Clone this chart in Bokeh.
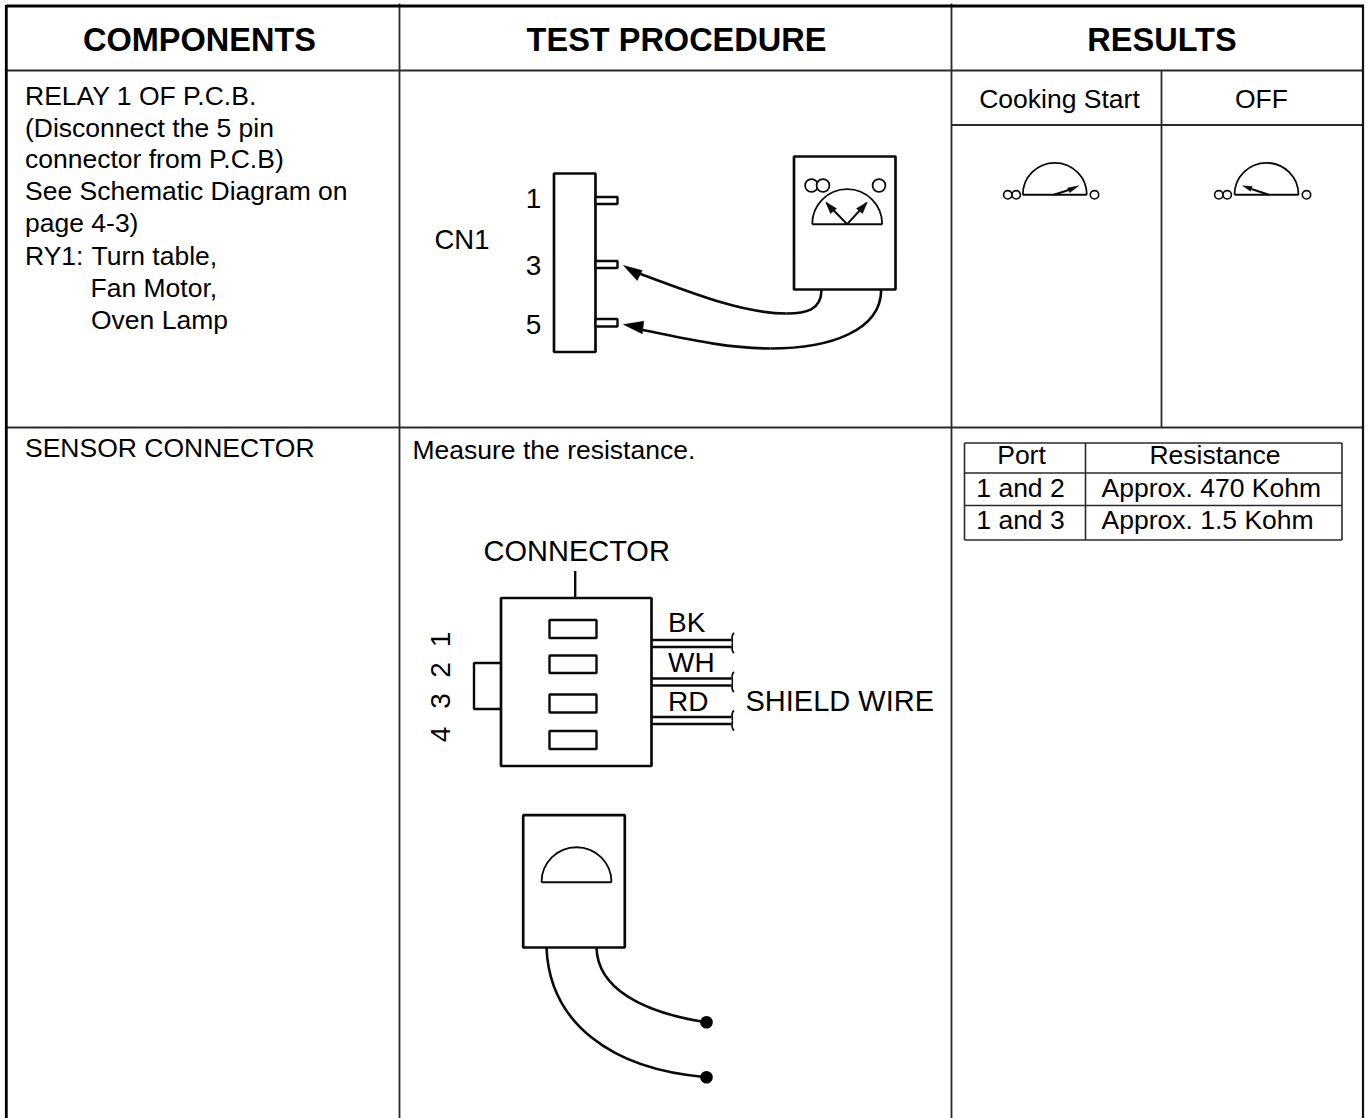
from bokeh.plotting import figure
from bokeh.models import Range1d
from bokeh.core.properties import value
from bokeh.embed import file_html
from bokeh.resources import INLINE

FONT = value("Liberation Sans")
INK = "#0a0a0a"
GRID = "#2a2a2a"

# ---- table rules (x or y of each rule and its extent)
frame_left = 5.8
frame_top = 5.5
frame_right = 1362.5
page_bottom = 1118
col_rules = [399, 951]
col_top = 3
sub_col = 1161
header_rule = 70
row_rule = 427
sub_rule = 124.5

# ---- table texts
header_labels = ["COMPONENTS", "TEST PROCEDURE", "RESULTS"]
header_x = [199, 676, 1161.5]
header_y = [51.5, 51.5, 51.5]

component_lines = ["RELAY 1 OF P.C.B.", "(Disconnect the 5 pin", "connector from P.C.B)",
                   "See Schematic Diagram on", "page 4-3)", "RY1:", "Turn table,",
                   "Fan Motor,", "Oven Lamp"]
component_x = [24.5, 24.5, 24.5, 24.5, 24.5, 24.5, 91, 90, 90.5]
component_y = [105, 136.7, 168.3, 200.5, 232.5, 264.7, 264.7, 296.7, 328.7]

plain_labels = ["SENSOR CONNECTOR", "Measure the resistance."]
plain_x = [24.5, 412]
plain_y = [456.7, 459]

result_labels = ["Cooking Start", "OFF"]
result_x = [1059, 1261]
result_y = [108.5, 108.5]

# ---- resistance table
res_left, res_mid, res_right = 964, 1085, 1341.5
res_rows = [442.5, 472.5, 505, 539.5]
res_center_labels = ["Port", "Resistance", "1 and 2", "1 and 3"]
res_center_x = [1021, 1214.5, 1020, 1020]
res_center_y = [464.5, 464.5, 497, 529]
res_left_labels = ["Approx. 470 Kohm", "Approx. 1.5 Kohm"]
res_left_x = [1101, 1101]
res_left_y = [497, 529]

# ---- CN1 relay connector
cn_body = (553.5, 595, 173, 351.5)
cn_pin_top = [196.5, 260.5, 318.5]
cn_pin_bottom = [203.5, 267.5, 326]
cn_pin_x = (595, 617)
cn_digits = ["1", "3", "5"]
cn_digit_x = [533, 533, 533]
cn_digit_y = [208, 275, 334]
cn_label = ["CN1"]
cn_label_x = [434]
cn_label_y = [249]

# ---- upper meter
m1_box = (793.5, 895, 156, 289)
m1_dot_x = [811, 822.5, 878.5]
m1_dot_y = [185, 185, 185]
m1_dial = (846.7, 223.7, 35)
m1_needle_x = [[846.7, 826], [846.7, 866]]
m1_needle_y = [[223.7, 202.5], [223.7, 202.5]]
m1_heads_x = [[825.3, 836, 830], [866.7, 862, 856]]
m1_heads_y = [[201.7, 208, 213], [201.7, 213, 208]]

# probe leads: start, two control points, end
lead_x0 = [821, 880.7, 786, 770]
lead_y0 = [289, 289, 313, 348]
lead_cx0 = [821, 880.7, 745, 725]
lead_cy0 = [310, 330, 313, 348]
lead_cx1 = [805, 830, 700, 680]
lead_cy1 = [313, 348, 296, 337]
lead_x1 = [786, 770, 640, 640]
lead_y1 = [313, 348, 273.5, 329]
lead_head_x = [[623, 641.7, 636.7], [623, 643.3, 641.7]]
lead_head_y = [[265, 270, 280], [324, 320.7, 333.3]]

# ---- small result dials
dial_x = [1054.3, 1266]
dial_y = [194.3, 194.3]
dial_r = 32
dial_dot_x = [1007.3, 1015.7, 1094, 1218.3, 1226.7, 1306]
dial_dot_y = [194.3] * 6
dial_needle_x = [[1053.3, 1069], [1268.3, 1251]]
dial_needle_y = [[194.3, 189.2], [194.3, 188.5]]
dial_head_x = [[1078.3, 1067, 1069.3], [1242.3, 1251.7, 1250]]
dial_head_y = [[185.3, 187.5, 192], [185.3, 186, 190.7]]

# ---- sensor connector
sc_body = (500.5, 651, 597.5, 765.5)
sc_tab_x = [500.5, 473.5, 473.5, 500.5]
sc_tab_y = [662.5, 662.5, 708.5, 708.5]
sc_leader_x = [574.7, 574.7]
sc_leader_y = [570.5, 597.5]
slot_left, slot_right = 549, 596
slot_top = [619.5, 655, 694, 730.5]
slot_bottom = [637.5, 672.5, 712, 748.5]
pos_labels = ["1", "2", "3", "4"]
pos_x = [439.5, 439.5, 439.5, 439.5]
pos_y = [639, 669.5, 700.5, 734]
wire_y = [639.5, 646.5, 678, 685, 716.5, 723.5]
wire_x = (651, 731)
wire_end_y = [642.5, 681.5, 720]
wire_labels = ["BK", "WH", "RD"]
wire_label_x = [667.5, 667.5, 667.5]
wire_label_y = [632.5, 672.5, 711]
big_labels = ["CONNECTOR", "SHIELD WIRE"]
big_x = [483, 745]
big_y = [561, 711]

# ---- lower meter
m2_box = (522.7, 624.3, 814.7, 947)
m2_dial = (576, 881.7, 35)
m2_x0 = [596, 546]
m2_y0 = [947, 947]
m2_cx0 = [597, 549]
m2_cy0 = [987, 1022]
m2_cx1 = [640, 610]
m2_cy1 = [1012, 1069]
m2_x1 = [706, 706]
m2_y1 = [1021.7, 1076.7]
m2_dot_r = 6.3

p = figure(width=1370, height=1118, x_range=Range1d(0, 1370), y_range=Range1d(1118, 0),
           output_backend="svg", toolbar_location=None, x_axis_type=None, y_axis_type=None,
           min_border=0, outline_line_color=None, background_fill_color="white",
           border_fill_color="white")
p.grid.visible = False
p.styles = {"position": "absolute", "left": "0px", "top": "0px"}


def box(b, width=2.7):
    p.quad(left=[b[0]], right=[b[1]], top=[b[2]], bottom=[b[3]], fill_color="white",
           line_color=INK, line_width=width)


def words(labels, xs, ys, size, align="left", style="normal"):
    # ys are baselines; the SVG text is placed around its middle, hence the lift
    p.text(x=xs, y=ys, text=labels, text_font=FONT, text_font_size=value(f"{size}px"), text_color="#000000",
           text_align=align, text_baseline="alphabetic", text_font_style=style, y_offset=-0.36 * size)


# table rules
p.segment(x0=col_rules, x1=col_rules, y0=[col_top] * 2, y1=[page_bottom] * 2, line_color=GRID, line_width=1.8)
p.segment(x0=[sub_col], x1=[sub_col], y0=[header_rule], y1=[row_rule], line_color=GRID, line_width=1.8)
p.segment(x0=[frame_left, col_rules[1]], x1=[frame_right, frame_right], y0=[header_rule, sub_rule],
          y1=[header_rule, sub_rule], line_color=GRID, line_width=1.8)
p.segment(x0=[frame_left], x1=[frame_right], y0=[row_rule], y1=[row_rule], line_color=GRID, line_width=1.8)
p.segment(x0=[frame_right], x1=[frame_right], y0=[frame_top], y1=[page_bottom], line_color="#111111", line_width=2.2)
p.segment(x0=[frame_left, frame_left], x1=[frame_left, frame_right + 1], y0=[frame_top - 1, frame_top],
          y1=[page_bottom, frame_top], line_color="#000000", line_width=2.8)

words(header_labels, header_x, header_y, 32.5, align="center", style="bold")
words(component_lines, component_x, component_y, 26.5)
words(plain_labels, plain_x, plain_y, 26.5)
words(result_labels, result_x, result_y, 26.5, align="center")

# resistance table
p.segment(x0=[res_left] * 4, x1=[res_right] * 4, y0=res_rows, y1=res_rows, line_color=GRID, line_width=1.6)
p.segment(x0=[res_left, res_mid, res_right], x1=[res_left, res_mid, res_right], y0=[res_rows[0]] * 3,
          y1=[res_rows[-1]] * 3, line_color=GRID, line_width=1.6)
words(res_center_labels, res_center_x, res_center_y, 26.5, align="center")
words(res_left_labels, res_left_x, res_left_y, 26.5)

# CN1
box(cn_body)
p.quad(left=[cn_pin_x[0]] * 3, right=[cn_pin_x[1]] * 3, top=cn_pin_top, bottom=cn_pin_bottom,
       fill_color="white", line_color=INK, line_width=2.4)
words(cn_digits, cn_digit_x, cn_digit_y, 28, align="center")
words(cn_label, cn_label_x, cn_label_y, 27.5)

# meter 1
box(m1_box)
p.circle(x=m1_dot_x, y=m1_dot_y, radius=6.4, fill_color="white", line_color=INK, line_width=1.8)
p.arc(x=[m1_dial[0]], y=[m1_dial[1]], radius=m1_dial[2], start_angle=0, end_angle=3.14159,
      line_color=INK, line_width=1.8)
p.segment(x0=[m1_dial[0] - m1_dial[2]], x1=[m1_dial[0] + m1_dial[2]], y0=[m1_dial[1]], y1=[m1_dial[1]],
          line_color=INK, line_width=2)
p.multi_line(xs=m1_needle_x, ys=m1_needle_y, line_color=INK, line_width=2)
p.patches(xs=m1_heads_x, ys=m1_heads_y, fill_color=INK, line_color=INK, line_width=0.5)

# leads
p.bezier(x0=lead_x0, y0=lead_y0, cx0=lead_cx0, cy0=lead_cy0, cx1=lead_cx1, cy1=lead_cy1, x1=lead_x1, y1=lead_y1,
         line_color=INK, line_width=2.6)
p.patches(xs=lead_head_x, ys=lead_head_y, fill_color="#000000", line_color="#000000", line_width=0.5)

# small dials
p.arc(x=dial_x, y=dial_y, radius=dial_r, start_angle=0, end_angle=3.14159, line_color=INK, line_width=1.8)
p.segment(x0=[v - dial_r for v in dial_x], x1=[v + dial_r for v in dial_x], y0=dial_y, y1=dial_y,
          line_color=INK, line_width=2)
p.circle(x=dial_dot_x, y=dial_dot_y, radius=4.2, fill_color="white", line_color=INK, line_width=1.6)
p.multi_line(xs=dial_needle_x, ys=dial_needle_y, line_color=INK, line_width=2)
p.patches(xs=dial_head_x, ys=dial_head_y, fill_color=INK, line_color=INK, line_width=0.5)

# sensor connector
box(sc_body)
p.line(x=sc_tab_x, y=sc_tab_y, line_color=INK, line_width=2.4)
p.line(x=sc_leader_x, y=sc_leader_y, line_color=INK, line_width=2.4)
p.quad(left=[slot_left] * 4, right=[slot_right] * 4, top=slot_top, bottom=slot_bottom, fill_color="white",
       line_color=INK, line_width=2.4)
p.text(x=pos_x, y=pos_y, text=pos_labels, text_font=FONT, text_font_size=value("28px"), text_color="#000000",
       text_align="center", text_baseline="middle", angle=1.5708)
p.segment(x0=[wire_x[0]] * 6, x1=[wire_x[1]] * 6, y0=wire_y, y1=wire_y, line_color=INK, line_width=2.4)
for yc in wire_end_y:
    p.bezier(x0=[733.5, 731.5], y0=[yc - 10, yc], cx0=[729.5, 733], cy0=[yc - 7, yc + 1.5], cx1=[733, 729.5],
             cy1=[yc - 1.5, yc + 7], x1=[731.5, 733.5], y1=[yc, yc + 10], line_color=INK, line_width=1.7)
words(wire_labels, wire_label_x, wire_label_y, 28)
words(big_labels, big_x, big_y, 29)

# meter 2
box(m2_box)
p.arc(x=[m2_dial[0]], y=[m2_dial[1]], radius=m2_dial[2], start_angle=0, end_angle=3.14159,
      line_color=INK, line_width=1.8)
p.segment(x0=[m2_dial[0] - m2_dial[2]], x1=[m2_dial[0] + m2_dial[2]], y0=[m2_dial[1]], y1=[m2_dial[1]],
          line_color=INK, line_width=1.9)
p.bezier(x0=m2_x0, y0=m2_y0, cx0=m2_cx0, cy0=m2_cy0, cx1=m2_cx1, cy1=m2_cy1, x1=m2_x1, y1=m2_y1,
         line_color=INK, line_width=2.6)
p.circle(x=m2_x1, y=m2_y1, radius=m2_dot_r, fill_color="#000000", line_color="#000000", line_width=0)

open("out.html", "w").write(file_html(p, INLINE))
